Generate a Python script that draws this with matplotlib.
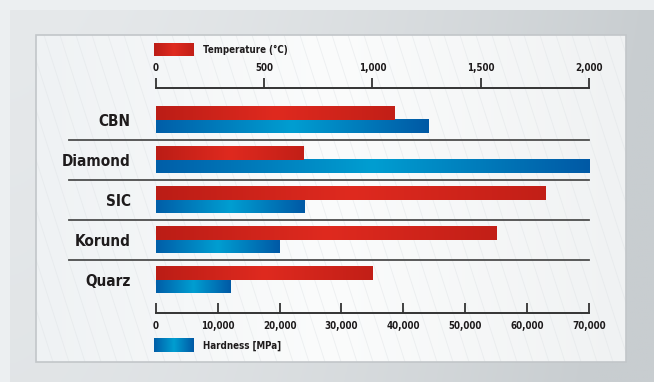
import numpy as np
import matplotlib
matplotlib.use('Agg')
import matplotlib.pyplot as plt
from matplotlib.colors import LinearSegmentedColormap, to_rgb
from matplotlib.patches import Rectangle

materials = ['CBN', 'Diamond', 'SIC', 'Korund', 'Quarz']
temperature = [1100, 680, 1800, 1570, 1000]        # °C
hardness = [44000, 70000, 24000, 20000, 12000]     # MPa
temp_ticks = [0, 500, 1000, 1500, 2000]
hard_ticks = [0, 10000, 20000, 30000, 40000, 50000, 60000, 70000]

W, H = 654, 382
plt.rcParams['font.family'] = ['Liberation Sans Narrow', 'DejaVu Sans Condensed', 'DejaVu Sans']
plt.rcParams['font.stretch'] = 'condensed'
TXT = '#1e1b1c'

red_cmap = LinearSegmentedColormap.from_list('red', ['#bb1d16', '#df2a1f', '#c21f17'])
blue_cmap = LinearSegmentedColormap.from_list('blue', ['#005ea8', '#009ed1', '#0059a5'])
grad = np.linspace(0, 1, 256).reshape(1, -1)

fig = plt.figure(figsize=(W / 100, H / 100), dpi=100)

# background (pixel coordinates)
bg = fig.add_axes([0, 0, 1, 1])
bg.axis('off')
bg.add_patch(Rectangle((0, 0), W, H, color='#eceff1', zorder=0))

xx = np.linspace(0, 1, 300)
yy = np.linspace(0, 1, 200)
X, Y = np.meshgrid(xx, yy)
c_left, c_right = np.array(to_rgb('#e6e9eb')), np.array(to_rgb('#c8cdd0'))
t = np.clip(X ** 1.6 + 0.15 * Y, 0, 1)[..., None]
panel = c_left * (1 - t) + c_right * t
bg.imshow(panel, extent=[10, W, H, 10], aspect='auto', zorder=1)

card_cmap = LinearSegmentedColormap.from_list('card', ['#eff2f4', '#fbfcfc', '#f0f2f3'])
bg.imshow(grad, cmap=card_cmap, extent=[36, 626, 362, 35], aspect='auto', zorder=2)
card = Rectangle((36, 35), 590, 327, fill=False, ec='#c2c6c9', lw=1.2, zorder=4)
bg.add_patch(card)
clip = Rectangle((36, 35), 590, 327, transform=bg.transData, visible=False)
for x0 in range(-100, 640, 16):
    ln, = bg.plot([x0, x0 + 105], [35, 362], color='#dfe3e6', lw=0.6, alpha=0.5, zorder=3)
    ln.set_clip_path(clip)
bg.set_xlim(0, W)
bg.set_ylim(H, 0)

# main chart
ax = fig.add_axes([155.8 / W, 1 - 313 / H, (589 - 155.8) / W, (313 - 88.3) / H])
ax.patch.set_visible(False)
axt = ax.twiny()
axt.patch.set_visible(False)

y = np.arange(len(materials))
bh = 0.33
blue_bars = ax.barh(y + bh / 2, hardness, height=bh, color='#0078bb')
red_bars = axt.barh(y - bh / 2, temperature, height=bh, color='#d0241b')

for a, bars, cm in [(ax, blue_bars, blue_cmap), (axt, red_bars, red_cmap)]:
    for b in bars:
        x0, y0, w, h = b.get_x(), b.get_y(), b.get_width(), b.get_height()
        b.set_visible(False)
        a.imshow(grad, cmap=cm, extent=[x0, x0 + w, y0 + h, y0], aspect='auto', zorder=2)

for k in range(len(materials) - 1):
    ax.axhline(k + 0.5, xmin=-0.2015, xmax=1, color='#4d4d4d', lw=1.3, clip_on=False, zorder=1)

ax.set_xlim(0, 70000)
axt.set_xlim(0, 2000)
ax.set_ylim(4.825, -0.79)

ax.set_xticks(hard_ticks, [f'{v:,}' for v in hard_ticks], fontsize=7, fontweight='bold', color=TXT)
ax.tick_params(axis='x', direction='in', length=7.5, width=1.3, color='#333333', pad=6)
ax.set_yticks(y, materials, fontsize=11, fontweight='bold', color=TXT)
ax.tick_params(axis='y', length=0, pad=18)

axt.set_xticks(temp_ticks, [f'{v:,}' for v in temp_ticks], fontsize=7, fontweight='bold', color=TXT)
axt.tick_params(axis='x', direction='out', length=7.5, width=1.3, color='#333333', pad=3.5)

for s in ['left', 'right', 'top']:
    ax.spines[s].set_visible(False)
for s in ['left', 'right', 'bottom']:
    axt.spines[s].set_visible(False)
ax.spines['bottom'].set_color('#333333')
ax.spines['bottom'].set_linewidth(1.4)
axt.spines['top'].set_color('#333333')
axt.spines['top'].set_linewidth(1.4)

# legend
ov = fig.add_axes([0, 0, 1, 1])
ov.axis('off')
ov.patch.set_visible(False)
ov.imshow(grad, cmap=red_cmap, extent=[154, 194, 56, 43], aspect='auto')
ov.imshow(grad, cmap=blue_cmap, extent=[154, 194, 352, 338], aspect='auto')
ov.text(203, 50, 'Temperature (°C)', fontsize=7, fontweight='bold', color=TXT, va='center')
ov.text(203, 346, 'Hardness [MPa]', fontsize=7, fontweight='bold', color=TXT, va='center')
ov.set_xlim(0, W)
ov.set_ylim(H, 0)

fig.savefig('out.png', dpi=100)
